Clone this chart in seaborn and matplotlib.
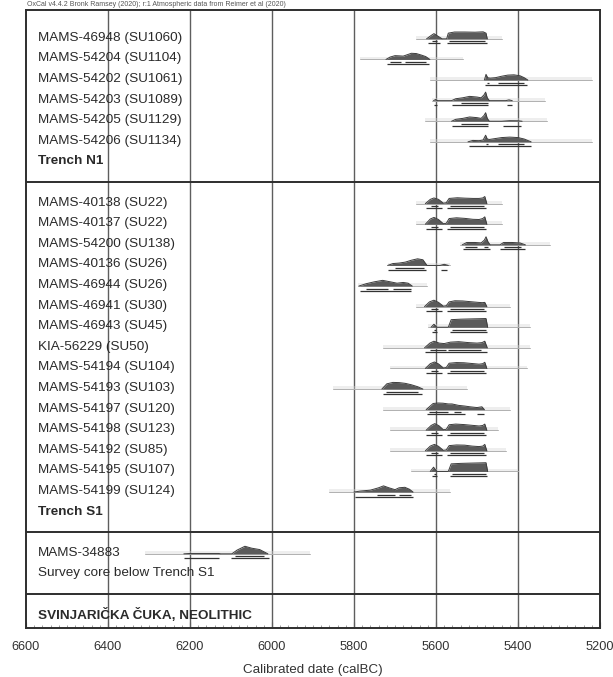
import matplotlib
matplotlib.use("Agg")
import matplotlib.pyplot as plt
import numpy as np
import pandas as pd
import seaborn as sns

# ---------------------------------------------------------------- data
n1_labels = ["MAMS-46948 (SU1060)", "MAMS-54204 (SU1104)", "MAMS-54202 (SU1061)",
             "MAMS-54203 (SU1089)", "MAMS-54205 (SU1129)", "MAMS-54206 (SU1134)"]
s1_labels = ["MAMS-40138 (SU22)", "MAMS-40137 (SU22)", "MAMS-54200 (SU138)",
             "MAMS-40136 (SU26)", "MAMS-46944 (SU26)", "MAMS-46941 (SU30)",
             "MAMS-46943 (SU45)", "KIA-56229 (SU50)", "MAMS-54194 (SU104)",
             "MAMS-54193 (SU103)", "MAMS-54197 (SU120)", "MAMS-54198 (SU123)",
             "MAMS-54192 (SU85)", "MAMS-54195 (SU107)", "MAMS-54199 (SU124)"]
core_label = "MAMS-34883"
core_note = "Survey core below Trench S1"
group_labels = ["Trench N1", "Trench S1"]
site_label = "SVINJARIČKA ČUKA, NEOLITHIC"
header = "OxCal v4.4.2 Bronk Ramsey (2020); r:1 Atmospheric data from Reimer et al (2020)"

x_ticks = [6600, 6400, 6200, 6000, 5800, 5600, 5400, 5200]

# posterior densities (calBC, relative height), order: N1, S1, survey core
post_years = [
    [5623, 5612, 5605, 5596, 5585, 5574, 5570, 5555, 5530, 5505, 5485, 5478, 5475],
    [5722, 5712, 5700, 5690, 5680, 5670, 5660, 5648, 5635, 5625, 5615],
    [5482, 5478, 5474, 5468, 5455, 5440, 5425, 5410, 5395, 5385, 5376],
    [5606, 5601, 5596, 5562, 5552, 5535, 5518, 5500, 5490, 5483, 5479, 5475, 5470, 5430, 5422, 5414],
    [5562, 5552, 5535, 5518, 5500, 5490, 5483, 5479, 5475, 5470, 5440, 5420, 5400, 5390],
    [5522, 5510, 5495, 5485, 5479, 5475, 5470, 5455, 5440, 5420, 5400, 5385, 5368],
    # Trench S1
    [5626, 5614, 5605, 5594, 5582, 5575, 5568, 5548, 5530, 5510, 5495, 5486, 5481, 5476],
    [5626, 5614, 5605, 5594, 5582, 5575, 5568, 5550, 5530, 5510, 5495, 5486, 5481, 5476],
    [5536, 5525, 5505, 5490, 5482, 5478, 5473, 5468, 5444, 5435, 5415, 5395, 5382],
    [5718, 5705, 5690, 5675, 5660, 5645, 5632, 5622, 5590, 5580, 5570],
    [5788, 5770, 5750, 5730, 5712, 5695, 5680, 5668, 5658],
    [5628, 5616, 5605, 5594, 5582, 5575, 5568, 5554, 5535, 5515, 5497, 5487, 5481, 5476],
    [5612, 5605, 5598, 5570, 5563, 5540, 5515, 5495, 5478, 5474],
    [5628, 5615, 5605, 5592, 5580, 5565, 5545, 5520, 5500, 5488, 5481, 5475],
    [5626, 5614, 5604, 5594, 5582, 5575, 5568, 5550, 5532, 5512, 5495, 5486, 5481, 5476],
    [5732, 5720, 5705, 5690, 5675, 5660, 5645, 5632],
    [5624, 5607, 5595, 5583, 5570, 5561, 5545, 5530, 5517, 5500, 5488, 5482],
    [5624, 5612, 5603, 5593, 5582, 5575, 5568, 5552, 5532, 5512, 5495, 5486, 5481, 5476],
    [5626, 5614, 5604, 5594, 5582, 5575, 5568, 5550, 5530, 5512, 5495, 5486, 5481, 5476],
    [5614, 5606, 5598, 5570, 5563, 5540, 5515, 5495, 5478, 5474],
    [5800, 5785, 5760, 5740, 5728, 5715, 5700, 5690, 5676, 5665, 5656],
    # survey core
    [6215, 6200, 6170, 6130, 6125, 6098, 6085, 6066, 6050, 6030, 6010],
]
post_heights = [
    [0, 0.35, 0.55, 0.3, 0, 0, 0.6, 0.72, 0.72, 0.7, 0.74, 0.6, 0],
    [0, 0.25, 0.4, 0.38, 0.35, 0.5, 0.65, 0.62, 0.45, 0.3, 0],
    [0, 0.6, 0.25, 0.2, 0.25, 0.4, 0.52, 0.55, 0.45, 0.25, 0],
    [0, 0.12, 0, 0, 0.2, 0.3, 0.45, 0.38, 0.3, 0.6, 0.9, 0.3, 0, 0, 0.08, 0],
    [0, 0.2, 0.3, 0.45, 0.38, 0.3, 0.6, 0.9, 0.3, 0, 0, 0.06, 0.05, 0],
    [0, 0.15, 0.12, 0.2, 0.7, 0.3, 0.25, 0.35, 0.45, 0.5, 0.45, 0.3, 0],
    # Trench S1
    [0, 0.45, 0.6, 0.45, 0.05, 0.1, 0.55, 0.62, 0.58, 0.55, 0.55, 0.6, 0.75, 0],
    [0, 0.55, 0.72, 0.5, 0.05, 0.1, 0.6, 0.68, 0.62, 0.52, 0.5, 0.6, 0.78, 0],
    [0, 0.25, 0.25, 0.2, 0.5, 0.85, 0.3, 0, 0, 0.25, 0.25, 0.2, 0],
    [0, 0.2, 0.25, 0.35, 0.55, 0.7, 0.6, 0, 0, 0.12, 0],
    [0, 0.25, 0.45, 0.6, 0.45, 0.3, 0.38, 0.3, 0],
    [0, 0.5, 0.68, 0.45, 0.05, 0.1, 0.5, 0.62, 0.6, 0.52, 0.45, 0.42, 0.45, 0],
    [0, 0.32, 0, 0, 0.8, 0.85, 0.88, 0.9, 0.92, 0],
    [0, 0.5, 0.7, 0.5, 0.45, 0.6, 0.65, 0.55, 0.5, 0.55, 0.7, 0],
    [0, 0.5, 0.68, 0.48, 0.05, 0.1, 0.55, 0.62, 0.6, 0.52, 0.45, 0.5, 0.65, 0],
    [0, 0.55, 0.7, 0.68, 0.6, 0.45, 0.25, 0],
    [0, 0.65, 0.7, 0.68, 0.6, 0.6, 0.45, 0.38, 0.3, 0.22, 0.3, 0],
    [0, 0.5, 0.7, 0.48, 0.05, 0.1, 0.58, 0.65, 0.6, 0.52, 0.45, 0.5, 0.65, 0],
    [0, 0.5, 0.68, 0.48, 0.05, 0.1, 0.55, 0.62, 0.6, 0.5, 0.45, 0.5, 0.68, 0],
    [0, 0.45, 0, 0, 0.8, 0.85, 0.88, 0.9, 0.92, 0],
    [0, 0.1, 0.2, 0.45, 0.65, 0.45, 0.25, 0.45, 0.5, 0.3, 0],
    # survey core
    [0, 0.04, 0.04, 0.04, 0, 0, 0.4, 0.8, 0.6, 0.45, 0],
]

# highest posterior density ranges (68.3% and 95.4%)
range68 = [
    [(5610, 5598), (5568, 5480)], [(5712, 5686), (5675, 5625)], [(5476, 5470), (5450, 5385)],
    [(5540, 5474)], [(5540, 5474)], [(5478, 5472), (5450, 5385)],
    [(5612, 5594), (5566, 5482)], [(5612, 5594), (5566, 5482)], [(5530, 5500), (5482, 5474), (5435, 5392)],
    [(5700, 5630)], [(5770, 5718), (5705, 5662)], [(5612, 5594), (5566, 5482)],
    [(5606, 5600), (5560, 5478)], [(5615, 5575), (5570, 5490)], [(5612, 5594), (5566, 5482)],
    [(5722, 5645)], [(5618, 5570), (5555, 5540)], [(5612, 5594), (5566, 5482)],
    [(5612, 5594), (5566, 5482)], [(5606, 5600), (5560, 5478)], [(5745, 5700), (5690, 5662)],
    [(6090, 6020)],
]
range95 = [
    [(5620, 5590), (5572, 5476)], [(5720, 5618)], [(5480, 5378)],
    [(5604, 5598), (5560, 5472), (5428, 5414)], [(5560, 5472), (5436, 5392)], [(5520, 5368)],
    [(5624, 5585), (5572, 5477)], [(5624, 5585), (5572, 5477)], [(5534, 5468), (5444, 5382)],
    [(5716, 5624), (5588, 5572)], [(5786, 5660)], [(5624, 5585), (5572, 5477)],
    [(5610, 5598), (5566, 5475)], [(5626, 5476)], [(5624, 5585), (5572, 5477)],
    [(5730, 5634)], [(5622, 5530), (5500, 5482)], [(5624, 5585), (5572, 5477)],
    [(5624, 5585), (5572, 5477)], [(5610, 5598), (5566, 5475)], [(5798, 5657)],
    [(6215, 6130), (6100, 6008)],
]

# extent of the unmodelled likelihoods
lik_from = [5650, 5785, 5615, 5610, 5627, 5615,
            5650, 5650, 5541, 5717, 5790, 5650, 5620, 5730, 5712,
            5851, 5729, 5712, 5712, 5660, 5860, 6310]
lik_to = [5440, 5534, 5220, 5334, 5329, 5220,
          5440, 5440, 5322, 5566, 5622, 5420, 5371, 5371, 5378,
          5524, 5420, 5450, 5430, 5400, 5566, 5907]

# ---------------------------------------------------------------- layout
sns.set_theme(style="white")
plt.rcParams["font.family"] = ["Liberation Sans", "DejaVu Sans"]

sample_rows = list(range(1, 7)) + list(range(9, 24)) + [26]
row_offset = 0.35
h_scale = 0.46

fig = plt.figure(figsize=(6.13, 6.77), dpi=100)
ax = fig.add_axes([26 / 613, 1 - 628 / 677, 574 / 613, 618 / 677])
ax.set_xlim(6600, 5200)
ax.set_ylim(30, 0)

for x in x_ticks[1:-1]:
    ax.axvline(x, color="#5e5e5e", lw=1.0, zorder=1)

# long-form table of posterior outlines
frames = []
for i, (yrs, hts) in enumerate(zip(post_years, post_heights)):
    base = sample_rows[i] + row_offset + 0.05
    frames.append(pd.DataFrame({"year": yrs,
                                "y": [base - h * h_scale for h in hts],
                                "base": base, "sample": i}))
post = pd.concat(frames, ignore_index=True)

for i in range(len(post_years)):
    yc = sample_rows[i] + row_offset
    base = yc + 0.05
    # likelihood trace
    ax.plot([lik_from[i], lik_to[i]], [base, base], color="#b0b0b0", lw=0.7, zorder=2)
    ax.fill_between([lik_from[i], lik_to[i]], base, base - 0.14,
                    color="#d6d6d6", alpha=0.4, lw=0, zorder=2)
    d = post[post["sample"] == i]
    ax.fill_between(d["year"], d["base"], d["y"], color="#5a5a5a", lw=0, zorder=3)
    for a, b in range68[i]:
        ax.plot([a, b], [yc + 0.17, yc + 0.17], color="#333333", lw=0.9,
                solid_capstyle="butt", zorder=4)
    for a, b in range95[i]:
        ax.plot([a, b], [yc + 0.27, yc + 0.27], color="#333333", lw=0.9,
                solid_capstyle="butt", zorder=4)

sns.lineplot(data=post, x="year", y="y", units="sample", estimator=None,
             sort=False, color="#3c3c3c", lw=0.7, ax=ax, zorder=4, legend=False)

# section dividers
for y in (8.35, 25.35, 28.35):
    ax.axhline(y, color="#2e2e2e", lw=1.4, zorder=5)

# row labels
tx = 0.021
txt_kw = dict(transform=ax.get_yaxis_transform(), va="center", ha="left",
              fontsize=9.7, color="#2a2a2a", zorder=6)
for k, lab in enumerate(n1_labels):
    ax.text(tx, k + 1 + row_offset, lab, **txt_kw)
ax.text(tx, 7 + row_offset, group_labels[0], fontweight="bold", **txt_kw)
for k, lab in enumerate(s1_labels):
    ax.text(tx, k + 9 + row_offset, lab, **txt_kw)
ax.text(tx, 24 + row_offset, group_labels[1], fontweight="bold", **txt_kw)
ax.text(tx, 26 + row_offset, core_label, **txt_kw)
ax.text(tx, 27 + row_offset, core_note, **txt_kw)
ax.text(tx, 29 + row_offset, site_label, fontweight="bold", **txt_kw)

# axes styling
ax.set_xticks(x_ticks)
ax.set_xticklabels([str(v) for v in x_ticks])
ax.set_xticks(np.arange(5200, 6601, 20), minor=True)
ax.tick_params(axis="x", which="major", direction="in", length=4, width=0.8,
               color="#444444", labelsize=9.2, labelcolor="#333333", pad=9, bottom=True)
ax.tick_params(axis="x", which="minor", direction="in", length=2, width=0.5,
               color="#777777", bottom=True)
ax.set_yticks([])
ax.set_ylabel("")
ax.set_xlabel("Calibrated date (calBC)", fontsize=9.6, color="#333333", labelpad=8)
for s in ax.spines.values():
    s.set_color("#2e2e2e")
    s.set_linewidth(1.4)

fig.text(27 / 613, 1 - 5 / 677, header, fontsize=5, color="#555555",
         va="center", ha="left")

fig.savefig("out.png", dpi=100, facecolor="white")
